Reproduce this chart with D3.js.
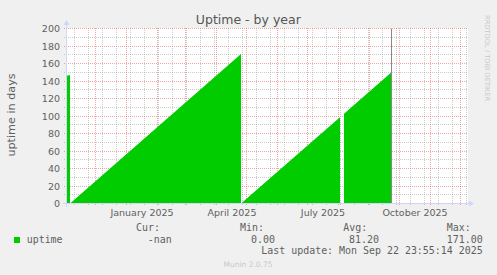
<!DOCTYPE html>
<html>
<head>
<meta charset="utf-8">
<script src="https://cdn.jsdelivr.net/npm/d3@7"></script>
<style>
html,body{margin:0;padding:0;background:#F0F0F0;}
svg{display:block;}
</style>
</head>
<body>
<svg id="chart" width="497" height="275"></svg>
<script>
// ---- data ----
const pointTimes = [
  "2024-11-02T12:00", "2024-11-05T12:00", "2024-11-05T12:00",
  "2025-04-25T12:00", "2025-04-25T12:00",
  "2025-08-02T12:00", "2025-08-04T12:00",
  "2025-08-06T12:00", "2025-09-23T00:00"
];
const uptimeValues = [146, 147, 0, 171, 0, 98.5, null, 102.5, 150];
const markerTime = "2025-09-23T00:00";

const yTicks = [0, 20, 40, 60, 80, 100, 120, 140, 160, 180, 200];
const xLabelMonths = ["2025-01-01", "2025-04-01", "2025-07-01", "2025-10-01"];
const xLabels = ["January 2025", "April 2025", "July 2025", "October 2025"];

const legendHeaders = ["Cur:", "Min:", "Avg:", "Max:"];
const legendValues = ["-nan", "0.00", "81.20", "171.00"];
const seriesName = "uptime";
const lastUpdate = "Last update: Mon Sep 22 23:55:14 2025";

const timeStart = "2024-11-02T12:00";
const timeEnd = "2025-12-07T12:00";

// ---- drawing ----
const parse = s => new Date(s);
const svg = d3.select("#chart");
const W = 497, H = 275;
const x = d3.scaleTime().domain([parse(timeStart), parse(timeEnd)]).range([67, 467]);
const y = d3.scaleLinear().domain([0, 200]).range([203.5, 28.5]);

svg.append("rect").attr("width", W).attr("height", H).attr("fill", "#F0F0F0");
svg.append("rect").attr("x", 67).attr("y", 28).attr("width", 401).attr("height", 175.5).attr("fill", "#FFFFFF");

const minorCol = "rgba(143,143,143,0.45)";
const majorCol = "rgba(222,79,79,0.5)";
const g = svg.append("g");

// horizontal grid
d3.range(0, 201, 10).forEach(v => {
  if (v === 0) return;
  g.append("line")
    .attr("x1", 64).attr("x2", 467)
    .attr("y1", Math.round(y(v) - 0.5) + 0.5).attr("y2", Math.round(y(v) - 0.5) + 0.5)
    .attr("stroke", v % 20 === 0 ? majorCol : minorCol)
    .attr("stroke-dasharray", "1,1");
});
// vertical minor grid (every two weeks)
const anchor = new Date(2025, 8, 14);
d3.timeDay.range(x.domain()[0], x.domain()[1]).forEach(d => {
  const c = d3.timeDay.count(anchor, d);
  if (((c % 14) + 14) % 14 !== 0) return;
  const px = Math.floor(x(d)) + 0.5;
  g.append("line").attr("x1", px).attr("x2", px).attr("y1", 28).attr("y2", 206)
    .attr("stroke", minorCol).attr("stroke-dasharray", "1,1");
});
// vertical major grid (months)
d3.timeMonth.range(x.domain()[0], x.domain()[1]).forEach(d => {
  const px = Math.floor(x(d)) + 0.5;
  g.append("line").attr("x1", px).attr("x2", px).attr("y1", 28).attr("y2", 206)
    .attr("stroke", majorCol).attr("stroke-dasharray", "1,1");
});

// data area
const data = pointTimes.map((t, i) => ({t: parse(t), v: uptimeValues[i]}));
const area = d3.area()
  .defined(d => d.v !== null)
  .x(d => x(d.t)).y0(y(0)).y1(d => y(d.v));
svg.append("path").datum(data).attr("d", area).attr("fill", "#00CC00");

// marker line
const mx = Math.floor(x(parse(markerTime))) + 0.5;
svg.append("line").attr("x1", mx).attr("x2", mx).attr("y1", y(200)).attr("y2", y(0))
  .attr("stroke", "#888888").attr("stroke-width", 1);

// axes lines + arrows
const axisCol = "#CFD6F8";
svg.append("line").attr("x1", 63).attr("x2", 470).attr("y1", 203.5).attr("y2", 203.5).attr("stroke", axisCol);
svg.append("line").attr("x1", 66.5).attr("x2", 66.5).attr("y1", 207).attr("y2", 24).attr("stroke", axisCol);
svg.append("path").attr("d", "M469,200.5 L474,203.5 L469,206.5 Z").attr("fill", axisCol);
svg.append("path").attr("d", "M63.5,25 L66.5,20 L69.5,25 Z").attr("fill", axisCol);

const fontFam = "'DejaVu Sans', sans-serif";
const txtCol = "#606060";

// y axis labels
const yAxis = d3.axisLeft(y).tickValues(yTicks).tickSize(0).tickPadding(6.5).tickFormat(d3.format("d"));
const ya = svg.append("g").attr("transform", "translate(66.5,0)").call(yAxis);
ya.select(".domain").remove();
ya.selectAll("text").attr("font-family", fontFam).attr("font-size", "9.5px").attr("fill", txtCol);

// x axis labels (centred half a month after the month start)
const labelDates = xLabelMonths.map(s => d3.timeDay.offset(new Date(s + "T00:00"), 15));
const xAxis = d3.axisBottom(x).tickValues(labelDates).tickSize(0).tickPadding(5.75)
  .tickFormat((d, i) => xLabels[i]);
const xa = svg.append("g").attr("transform", "translate(0,203.5)").call(xAxis);
xa.select(".domain").remove();
xa.selectAll("text").attr("font-family", fontFam).attr("font-size", "9.5px").attr("fill", txtCol);

// title
svg.append("text").attr("x", 248.3).attr("y", 24).attr("text-anchor", "middle")
  .attr("font-family", fontFam).attr("font-size", "12.5px").attr("fill", "#555555")
  .text("Uptime - by year");

// y label
svg.append("text").attr("transform", "translate(15,115) rotate(-90)").attr("text-anchor", "middle")
  .attr("font-family", fontFam).attr("font-size", "11.2px").attr("fill", txtCol)
  .text("uptime in days");

// watermark
svg.append("text").attr("transform", "translate(485.3,15) rotate(90)").attr("text-anchor", "start")
  .attr("font-family", fontFam).attr("font-size", "6.7px").attr("fill", "#C8C8C8")
  .text("RRDTOOL / TOBI OETIKER");

// legend
const mono = "'DejaVu Sans Mono', monospace";
const headerX = [136, 240, 343.3, 446.7];
const valueX = [171.7, 275, 379, 482.7];
legendHeaders.forEach((h, i) => {
  svg.append("text").attr("x", headerX[i]).attr("y", 230.8)
    .attr("font-family", mono).attr("font-size", "9.95px").attr("fill", txtCol).text(h);
});
legendValues.forEach((v, i) => {
  svg.append("text").attr("x", valueX[i]).attr("y", 242.5).attr("text-anchor", "end")
    .attr("font-family", mono).attr("font-size", "9.95px").attr("fill", txtCol).text(v);
});
svg.append("rect").attr("x", 14).attr("y", 237).attr("width", 6).attr("height", 6).attr("fill", "#00CC00");
svg.append("text").attr("x", 26.7).attr("y", 242.5)
  .attr("font-family", mono).attr("font-size", "9.95px").attr("fill", txtCol).text(seriesName);
svg.append("text").attr("x", 482.7).attr("y", 254.3).attr("text-anchor", "end")
  .attr("font-family", mono).attr("font-size", "9.95px").attr("fill", txtCol).text(lastUpdate);

svg.append("text").attr("x", 248).attr("y", 267.3).attr("text-anchor", "middle")
  .attr("font-family", fontFam).attr("font-size", "7.5px").attr("fill", "#C8C8C8")
  .text("Munin 2.0.75");
</script>
</body>
</html>
